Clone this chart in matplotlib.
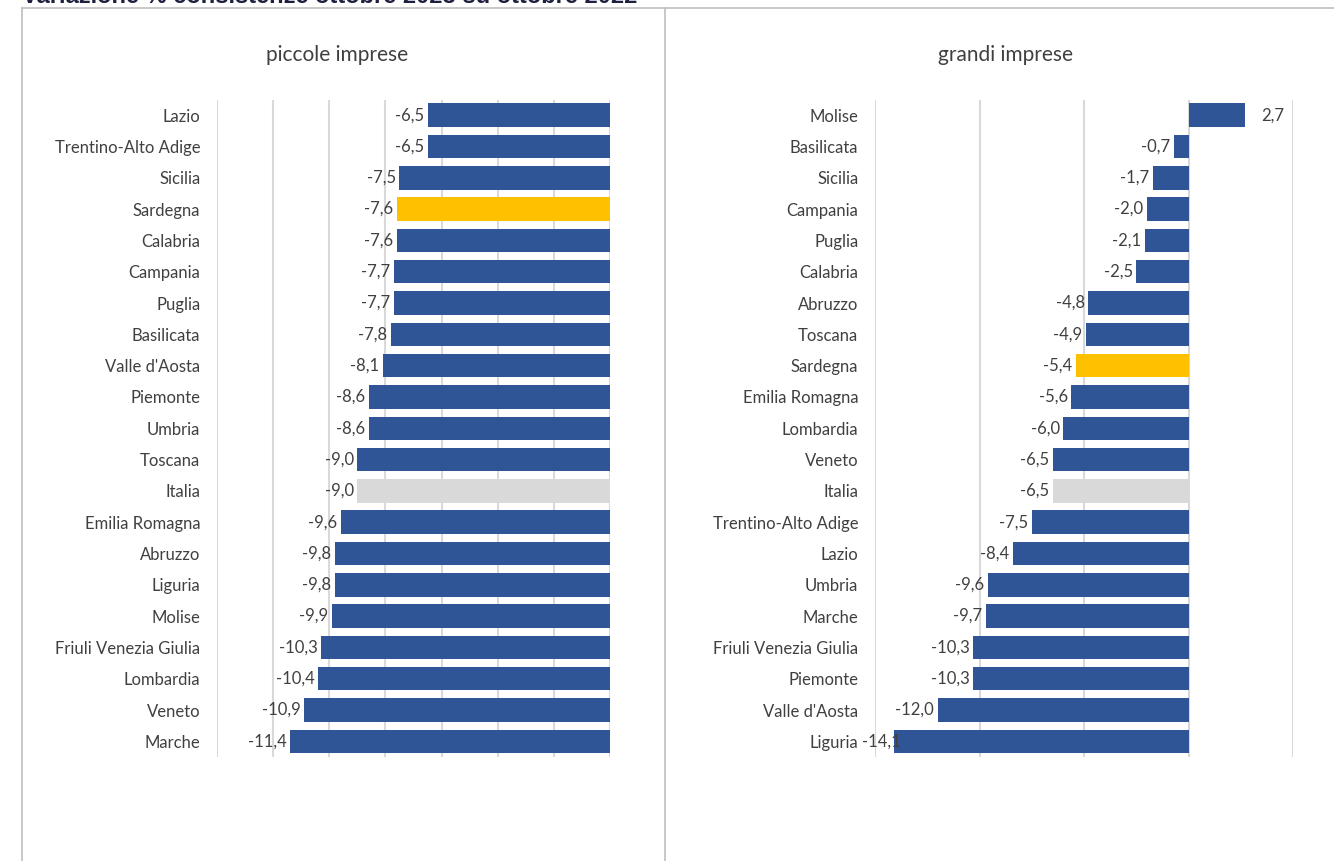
import matplotlib
matplotlib.use("Agg")
import matplotlib.pyplot as plt
from matplotlib.lines import Line2D

# data (top to bottom as shown)
small_regions = ["Lazio", "Trentino-Alto Adige", "Sicilia", "Sardegna", "Calabria",
                 "Campania", "Puglia", "Basilicata", "Valle d'Aosta", "Piemonte",
                 "Umbria", "Toscana", "Italia", "Emilia Romagna", "Abruzzo",
                 "Liguria", "Molise", "Friuli Venezia Giulia", "Lombardia",
                 "Veneto", "Marche"]
small_values = [-6.5, -6.5, -7.5, -7.6, -7.6, -7.7, -7.7, -7.8, -8.1, -8.6,
                -8.6, -9.0, -9.0, -9.6, -9.8, -9.8, -9.9, -10.3, -10.4,
                -10.9, -11.4]

large_regions = ["Molise", "Basilicata", "Sicilia", "Campania", "Puglia",
                 "Calabria", "Abruzzo", "Toscana", "Sardegna", "Emilia Romagna",
                 "Lombardia", "Veneto", "Italia", "Trentino-Alto Adige", "Lazio",
                 "Umbria", "Marche", "Friuli Venezia Giulia", "Piemonte",
                 "Valle d'Aosta", "Liguria"]
large_values = [2.7, -0.7, -1.7, -2.0, -2.1, -2.5, -4.8, -4.9, -5.4, -5.6,
                -6.0, -6.5, -6.5, -7.5, -8.4, -9.6, -9.7, -10.3, -10.3,
                -12.0, -14.1]

BLUE = "#2F5597"
YELLOW = "#FFC000"
GREY = "#D9D9D9"
TEXT = "#404040"

plt.rcParams["font.family"] = ["Lato", "DejaVu Sans"]

W, H = 1334, 861
fig = plt.figure(figsize=(W / 100, H / 100), dpi=100)


def colour_for(name):
    if name == "Sardegna":
        return YELLOW
    if name == "Italia":
        return GREY
    return BLUE


def fmt(v):
    return ("%.1f" % v).replace(".", ",")


def draw_panel(rect, names, values, xlim, step, title, title_x):
    ax = fig.add_axes(rect)
    n = len(names)
    ys = list(range(n))[::-1]
    ax.barh(ys, values, height=0.75, color=[colour_for(r) for r in names],
            zorder=3)
    ax.set_xlim(*xlim)
    ax.set_ylim(-0.5, n - 0.5)
    ax.set_yticks(ys)
    ax.set_yticklabels(names, fontsize=12, color=TEXT)
    ax.tick_params(axis="y", length=0, pad=12)
    ax.set_xticks(range(xlim[0], xlim[1] + 1, step))
    ax.xaxis.grid(True, color=GREY, linewidth=1.5, zorder=0)
    ax.tick_params(axis="x", length=0, labelbottom=False)
    for s in ax.spines.values():
        s.set_visible(False)
    for y, v in zip(ys, values):
        if v >= 0:
            off, ha = 12, "left"
        elif v - xlim[0] < 1.5:
            # no room left of the bar: label sits over the bar end
            off, ha = 5, "right"
        else:
            off, ha = -2.5, "right"
        ax.annotate(fmt(v), (v, y), xytext=(off, 0), textcoords="offset points",
                    ha=ha, va="center", fontsize=12, color=TEXT, zorder=4,
                    annotation_clip=False)
    fig.text(title_x / W, 1 - 55 / H, title, ha="center", va="center",
             fontsize=15, color=TEXT)
    return ax


def px_rect(x0, x1, ytop, ybot):
    return [x0 / W, 1 - ybot / H, (x1 - x0) / W, (ybot - ytop) / H]


draw_panel(px_rect(217, 610, 99.5, 757), small_regions, small_values,
           (-14, 0), 2, "piccole imprese", 337)
draw_panel(px_rect(875, 1293, 99.5, 757), large_regions, large_values,
           (-15, 5), 5, "grandi imprese", 1005)

# panel frames
border = "#BFBFBF"
fig.add_artist(Line2D([22 / W, 1], [1 - 8 / H, 1 - 8 / H], color=border, lw=1.2))
fig.add_artist(Line2D([22 / W, 22 / W], [0, 1 - 8 / H], color=border, lw=1.2))
fig.add_artist(Line2D([665 / W, 665 / W], [0, 1 - 8 / H], color=border, lw=1.2))

# page title (cut at the top in the source)
fig.text(22 / W, 1 - 3 / H, "Variazione % consistenze ottobre 2023 su ottobre 2022",
         ha="left", va="baseline", fontsize=17, fontweight="bold",
         color="#1F1F3F", family=["Liberation Sans", "DejaVu Sans"])

fig.savefig("out.png", dpi=100)
